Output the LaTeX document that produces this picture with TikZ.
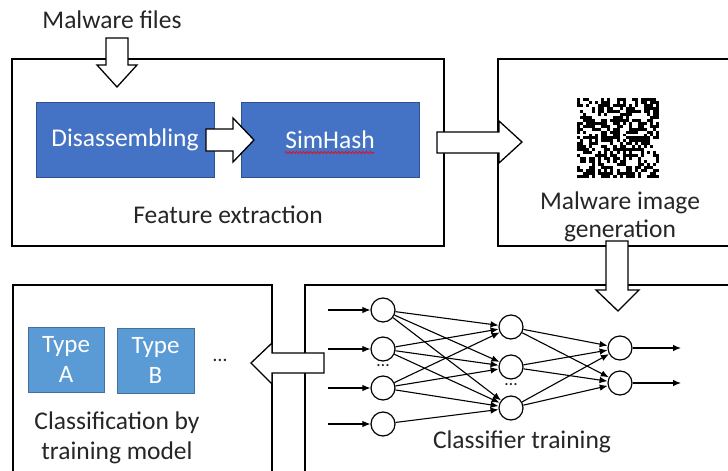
\documentclass[tikz,border=0pt]{standalone}
\usepackage{fontspec}
\setmainfont{Carlito}
\usetikzlibrary{arrows.meta,calc,decorations.pathmorphing}
\definecolor{darkblue}{HTML}{4472C4}
\definecolor{darkblueline}{HTML}{2F528F}
\definecolor{lightblue}{HTML}{5B9BD5}
\definecolor{lightblueline}{HTML}{41719C}
\definecolor{txt}{HTML}{262626}
\tikzset{
  panel/.style={draw=black, line width=1.3pt, fill=white, rectangle, inner sep=0pt},
  bluebox/.style={fill=darkblue, draw=darkblueline, line width=0.6pt, text=white, inner sep=0pt,
    font=\fontsize{25.5}{28}\selectfont},
  typebox/.style={fill=lightblue, draw=lightblueline, line width=0.6pt, text=white, inner sep=0pt,
    align=center, font=\fontsize{25}{30}\selectfont},
  caption/.style={text=txt, align=center, inner sep=0pt, font=\fontsize{25.5}{28}\selectfont},
  blockarrow/.style={draw=black, fill=white, line width=1.3pt, line join=miter},
  neuron/.style={circle, draw=black, line width=1.2pt, minimum size=24pt, inner sep=0pt, fill=white},
  link/.style={line width=1.1pt, -{Latex[length=8pt,width=6.5pt]}},
  dots/.style={text=txt, inner sep=0pt, font=\fontsize{18}{20}\selectfont},
}
\begin{document}
\begin{tikzpicture}[x=1pt,y=-1pt]
\useasboundingbox (0,0) rectangle (728,471);
\begin{scope}
\clip (0,0) rectangle (728,471);

% panels
\node[panel, minimum width=432pt, minimum height=187pt] (fe) at (228,152.5) {};
\node[panel, minimum width=250pt, minimum height=187pt] (gen) at (623,152.5) {};
\node[panel, minimum width=440pt, minimum height=190pt] (clf) at (525,380) {};
\node[panel, minimum width=259pt, minimum height=190pt] (res) at (142.5,380) {};

% feature extraction
\node[bluebox, minimum width=178pt, minimum height=75pt] (dis) at (125,139.5) {Disassembling};
\node[bluebox, minimum width=178pt, minimum height=75pt] (sim) at (330,139.5) {SimHash};
\draw[red, line width=0.7pt, decorate, decoration={snake, amplitude=1pt, segment length=3.5pt}]
  ($(sim.center)+(-45,13)$) -- ($(sim.center)+(44,13)$);
\node[caption] (fetxt) at (228,215) {Feature extraction};
\node[caption] (intxt) at (112,20) {Malware files};

% malware image as a random bit pattern
\pgfmathsetseed{11}
\foreach \i in {0,...,26}{
  \foreach \j in {0,...,26}{
    \pgfmathrandominteger{\bit}{0}{99}
    \ifnum\bit<53 \fill[black] (577+\i*3.04, 98+\j*2.96) rectangle ++(3.04,2.96);\fi
  }
}
\node[caption] (gentxt) at (620,216.5) {Malware image\\generation};

% classification results
\node[typebox, minimum width=76pt, minimum height=65pt] (ta) at (66,359.5) {Type\\A};
\node[typebox, minimum width=77pt, minimum height=65pt] (tb) at (155.5,360.5) {Type\\B};
\node[dots, font=\fontsize{20}{22}\selectfont] (tdots) at (220,360) {…};
\node[caption, font=\fontsize{25.5}{30}\selectfont] (restxt) at (117,438) {Classification by\\training model};

% neural network
\foreach \k/\y in {1/310,2/349,3/388,4/424}{
  \node[neuron] (i\k) at (383,\y) {};
  \coordinate (s\k) at (328,\y);
  \draw[link] (s\k) -- (i\k);
}
\foreach \k/\y in {1/327,2/367,3/408}{
  \node[neuron] (h\k) at (511,\y) {};
}
\foreach \k/\y in {1/348,2/383}{
  \node[neuron] (o\k) at (620,\y) {};
  \coordinate (e\k) at (681,\y);
  \draw[link] (o\k) -- (e\k);
}
\foreach \a in {1,2,3}{
  \foreach \b in {1,2,3}{
    \draw[link] (i\a) -- (h\b);
  }
}
\draw[link] (i4) -- (h3);
\foreach \a in {1,2,3}{
  \foreach \b in {1,2}{
    \draw[link] (h\a) -- (o\b);
  }
}
\node[dots] (idots) at (383,366) {…};
\node[dots] (hdots) at (511,385) {…};
\node[caption] (clftxt) at (522,442) {Classifier training};

% hollow block arrows between stages
\draw[blockarrow] (106,38) -- (128,38) -- (128,65) -- (137,65) -- (117,87) -- (97,65) -- (106,65) -- cycle;
\draw[blockarrow] (206,129) -- (233,129) -- (233,118) -- (254,140) -- (233,162) -- (233,151) -- (206,151) -- cycle;
\draw[blockarrow] (437,132) -- (499,132) -- (499,121) -- (522,142) -- (499,163) -- (499,153) -- (437,153) -- cycle;
\draw[blockarrow] (606,241) -- (628,241) -- (628,290) -- (639,290) -- (618,311) -- (596,290) -- (606,290) -- cycle;
\draw[blockarrow] (324,353) -- (272,353) -- (272,343) -- (251,363) -- (272,384) -- (272,373) -- (324,373) -- cycle;
\end{scope}
\end{tikzpicture}
\end{document}
